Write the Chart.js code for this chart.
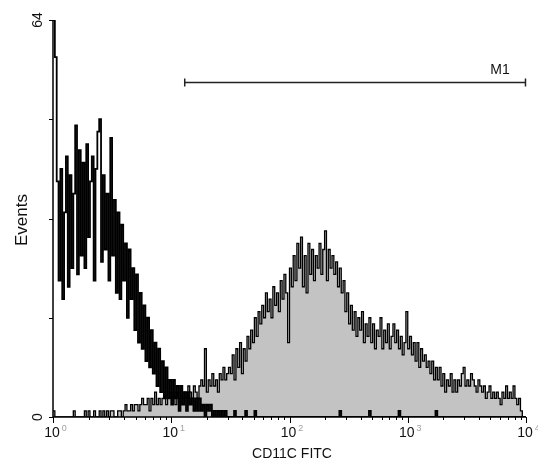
<!DOCTYPE html>
<html>
<head>
<meta charset="utf-8">
<script src="https://cdn.jsdelivr.net/npm/chart.js@4.4.1/dist/chart.umd.min.js"></script>
<style>
  html, body { margin: 0; padding: 0; background: #fff; }
  canvas { display: block; }
</style>
</head>
<body>
<canvas id="histo" width="538" height="462"></canvas>
<script>
// 256 log channels spanning 10^0 .. 10^4
const channelsPerDecade = 64;
const decades = [1, 10, 100, 1000, 10000];
const yTicks = [0, 16, 32, 48, 64];
const yLabels = ['0', '64'];
const xTitle = 'CD11C FITC';
const yTitle = 'Events';
const markerLabel = 'M1';
const markerRange = [13, 9900];

// control (open black histogram)
const control = [
  64, 58, 38, 22, 40, 19, 33, 42, 21, 39, 24, 36, 47, 23, 43, 26,
  41, 24, 44, 29, 38, 42, 22, 40, 46, 48, 25, 39, 27, 36, 22, 45,
  26, 35, 20, 33, 19, 31, 22, 28, 16, 27, 19, 24, 14, 23, 12, 20,
  11, 18, 9, 16, 8, 14, 7, 12, 5, 11, 4, 9, 3, 8, 3, 6,
  2, 6, 3, 5, 1, 5, 2, 4, 1, 4, 2, 3, 1, 3, 1, 3,
  1, 2, 0, 2, 1, 2, 0, 1, 0, 1, 0, 1, 0, 1, 0, 0,
  0, 0, 1, 0, 0, 0, 0, 0, 1, 0, 0, 0, 0, 1, 0, 0,
  0, 0, 0, 0, 0, 0, 0, 0, 0, 0, 0, 0, 0, 0, 0, 0,
  0, 0, 0, 0, 0, 0, 0, 0, 0, 0, 0, 0, 0, 0, 0, 0,
  0, 0, 0, 0, 0, 0, 0, 0, 0, 0, 0, 1, 0, 0, 0, 0,
  0, 0, 0, 0, 0, 0, 0, 0, 0, 0, 0, 1, 0, 0, 0, 0,
  0, 0, 0, 0, 0, 0, 0, 0, 0, 0, 0, 1, 0, 0, 0, 0,
  0, 0, 0, 0, 0, 0, 0, 0, 0, 0, 0, 0, 0, 0, 0, 1,
  0, 0, 0, 0, 0, 0, 0, 0, 0, 0, 0, 0, 0, 0, 0, 0,
  0, 0, 0, 0, 0, 0, 0, 0, 0, 0, 0, 0, 0, 0, 0, 0,
  0, 0, 0, 0, 0, 0, 0, 0, 0, 0, 0, 0, 0, 0, 0, 0
];

// CD11c stained sample (grey filled histogram)
const sample = [
  1, 0, 0, 0, 0, 0, 0, 0, 0, 0, 0, 1, 0, 0, 0, 0,
  0, 1, 0, 1, 0, 0, 1, 0, 0, 1, 0, 1, 0, 1, 0, 1,
  1, 0, 0, 1, 1, 0, 1, 2, 1, 1, 2, 1, 2, 2, 1, 2,
  3, 2, 2, 3, 1, 3, 2, 4, 2, 3, 2, 3, 4, 2, 3, 4,
  3, 4, 2, 4, 3, 5, 3, 4, 3, 5, 4, 3, 5, 4, 3, 5,
  6, 5, 11, 4, 6, 5, 7, 5, 6, 4, 7, 6, 8, 6, 7, 8,
  7, 10, 6, 11, 8, 12, 7, 11, 9, 13, 11, 14, 12, 16, 13, 17,
  15, 18, 16, 20, 17, 19, 16, 21, 18, 20, 17, 22, 19, 23, 20, 12,
  24, 21, 26, 22, 28, 24, 29, 21, 26, 20, 28, 23, 27, 22, 26, 24,
  28, 23, 27, 30, 22, 27, 24, 26, 23, 25, 21, 24, 20, 22, 17, 20,
  15, 18, 14, 17, 13, 16, 14, 17, 12, 15, 13, 16, 12, 15, 11, 14,
  13, 16, 11, 14, 12, 15, 11, 13, 15, 12, 14, 11, 13, 10, 12, 17,
  11, 13, 10, 12, 9, 12, 8, 11, 9, 10, 8, 9, 7, 9, 6, 8,
  6, 8, 5, 7, 4, 6, 5, 7, 4, 6, 4, 6, 5, 7, 8, 5,
  6, 5, 7, 6, 5, 4, 6, 5, 4, 5, 3, 4, 5, 3, 4, 3,
  4, 3, 2, 4, 3, 5, 3, 4, 3, 5, 3, 2, 3, 1, 0, 0
];

// channel number -> fluorescence value (left edge of each bin), plus closing edge
const toPoints = (counts) => {
  const pts = counts.map((v, c) => ({ x: Math.pow(10, c / channelsPerDecade), y: v }));
  pts.push({ x: Math.pow(10, counts.length / channelsPerDecade), y: 0 });
  return pts;
};

const font = "'Liberation Sans', Arial, sans-serif";

const facsAxes = {
  id: 'facsAxes',
  afterDraw(chart) {
    const { ctx, chartArea: { left, right, top, bottom }, scales: { x, y } } = chart;
    ctx.save();
    ctx.strokeStyle = '#000';
    ctx.fillStyle = '#111';

    // axis lines
    ctx.lineWidth = 1.5;
    ctx.beginPath();
    ctx.moveTo(left, top);
    ctx.lineTo(left, bottom);
    ctx.lineTo(right, bottom);
    ctx.stroke();

    // y ticks
    ctx.lineWidth = 1;
    ctx.beginPath();
    yTicks.forEach(v => {
      const py = Math.round(y.getPixelForValue(v)) + 0.5;
      ctx.moveTo(left - 4, py);
      ctx.lineTo(left, py);
    });
    ctx.stroke();

    // x ticks, major + minor
    ctx.beginPath();
    decades.forEach((d, i) => {
      const px = Math.round(x.getPixelForValue(d)) + 0.5;
      ctx.moveTo(px, bottom);
      ctx.lineTo(px, bottom + 6);
      if (i < decades.length - 1) {
        for (let k = 2; k <= 9; k++) {
          const mx = Math.round(x.getPixelForValue(d * k)) + 0.5;
          ctx.moveTo(mx, bottom);
          ctx.lineTo(mx, bottom + 3);
        }
      }
    });
    ctx.stroke();

    // x labels: 10 with a small grey exponent
    decades.forEach((d, i) => {
      const px = x.getPixelForValue(d);
      ctx.font = `14px ${font}`;
      ctx.textAlign = 'center';
      ctx.textBaseline = 'alphabetic';
      ctx.fillStyle = '#111';
      ctx.fillText('10', px - 1, bottom + 20);
      const w = ctx.measureText('10').width;
      ctx.font = `9px ${font}`;
      ctx.textAlign = 'left';
      ctx.fillStyle = '#a0a0a0';
      ctx.fillText(String(i), px - 1 + w / 2 + 2, bottom + 14);
    });

    // y labels, rotated
    ctx.fillStyle = '#111';
    ctx.font = `14px ${font}`;
    ctx.textAlign = 'center';
    [0, 64].forEach((v, i) => {
      ctx.save();
      ctx.translate(42, y.getPixelForValue(v));
      ctx.rotate(-Math.PI / 2);
      ctx.fillText(yLabels[i], 0, 0);
      ctx.restore();
    });

    // axis titles
    ctx.font = `14px ${font}`;
    ctx.textAlign = 'center';
    ctx.fillText(xTitle, 292, 458);
    ctx.save();
    ctx.translate(27, 220);
    ctx.rotate(-Math.PI / 2);
    ctx.font = `17px ${font}`;
    ctx.fillText(yTitle, 0, 0);
    ctx.restore();

    // M1 region marker
    const m0 = x.getPixelForValue(markerRange[0]);
    const m1 = x.getPixelForValue(markerRange[1]);
    const my = 82.5;
    ctx.lineWidth = 1.5;
    ctx.strokeStyle = '#222';
    ctx.beginPath();
    ctx.moveTo(m0, my);
    ctx.lineTo(m1, my);
    ctx.moveTo(m0, my - 4);
    ctx.lineTo(m0, my + 4);
    ctx.moveTo(m1, my - 4);
    ctx.lineTo(m1, my + 4);
    ctx.stroke();
    ctx.font = `14px ${font}`;
    ctx.textAlign = 'center';
    ctx.fillStyle = '#111';
    ctx.fillText(markerLabel, 500, 74);

    ctx.restore();
  }
};

new Chart(document.getElementById('histo'), {
  type: 'line',
  data: {
    datasets: [{
      label: 'control',
      data: toPoints(control),
      stepped: true,
      borderColor: '#000',
      borderWidth: 1.8,
      pointRadius: 0,
      fill: false,
      order: 0
    }, {
      label: 'CD11c',
      data: toPoints(sample),
      stepped: true,
      borderColor: '#000',
      borderWidth: 1.3,
      backgroundColor: '#c3c3c3',
      pointRadius: 0,
      fill: 'origin',
      order: 1
    }]
  },
  options: {
    responsive: false,
    animation: false,
    devicePixelRatio: 1,
    layout: { padding: { left: 53, right: 12, top: 20, bottom: 45 } },
    plugins: {
      legend: { display: false },
      tooltip: { enabled: false }
    },
    scales: {
      x: { type: 'logarithmic', min: 1, max: 10000, display: false },
      y: { type: 'linear', min: 0, max: 64, display: false }
    }
  },
  plugins: [facsAxes]
});
</script>
</body>
</html>
